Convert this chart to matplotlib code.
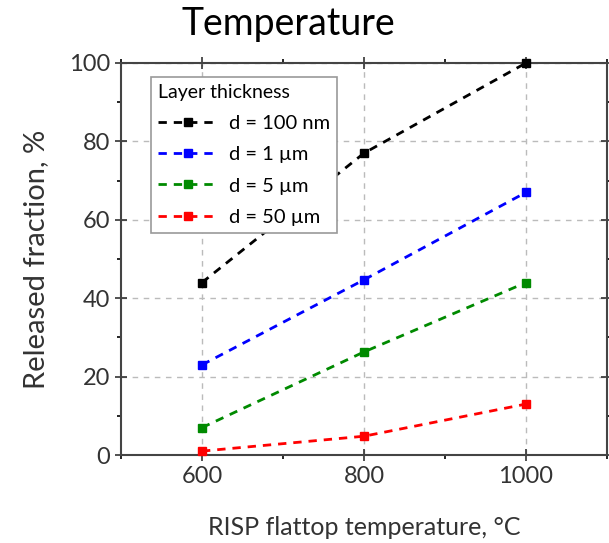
import numpy as np
import matplotlib.pyplot as plt
from matplotlib.ticker import MultipleLocator

plt.rcParams['font.family'] = ['Lato', 'DejaVu Sans']

# flattop temperature, degC
temperature = [600, 800, 1000]

# released fraction (%) for each layer thickness
labels = ["d = 100 nm", "d = 1 µm", "d = 5 µm", "d = 50 µm"]
released = [
    [44, 77, 100],
    [23, 44.7, 67],
    [7, 26.3, 44],
    [1, 4.8, 13],
]
colors = ["black", "#0000ff", "#008a00", "#ff0000"]

fig = plt.figure(figsize=(6.09, 5.43), dpi=100)
ax = fig.add_axes([0.1987, 0.162, 0.798, 0.722])

for vals, lab, col in zip(released, labels, colors):
    ax.plot(temperature, vals, linestyle=(0, (3, 2.5)), linewidth=2, color=col,
            marker="s", markersize=6, label=lab, clip_on=False, zorder=3)

ax.set_xlim(500, 1100)
ax.set_ylim(0, 100)
ax.xaxis.set_major_locator(MultipleLocator(200))
ax.xaxis.set_minor_locator(MultipleLocator(100))
ax.yaxis.set_major_locator(MultipleLocator(20))
ax.yaxis.set_minor_locator(MultipleLocator(10))
ax.tick_params(which="major", direction="inout", length=8, width=1.2,
               top=True, right=True, labelsize=17, colors="#333333", pad=4)
ax.tick_params(which="minor", direction="out", length=3, width=1.2,
               top=True, right=True)
ax.grid(True, which="major", linestyle=(0, (4, 4)), color="#bbbbbb", linewidth=1)
for s in ax.spines.values():
    s.set_linewidth(1.5)
    s.set_color("#444444")

ax.set_xlabel("RISP flattop temperature, °C", fontsize=18, color="#333333", labelpad=21)
ax.set_ylabel("Released fraction, %", fontsize=21, color="#333333", labelpad=14)
fig.text(0.473, 0.955, "Temperature", fontsize=27, ha="center", va="center")

leg = ax.legend(title="Layer thickness", loc="upper left", bbox_to_anchor=(0.05, 0.98),
                fontsize=14.5, title_fontsize=14, frameon=True, fancybox=False,
                edgecolor="#999999", framealpha=1, handlelength=2.9,
                borderpad=0.35, labelspacing=0.7, handletextpad=0.6, borderaxespad=0.3)
leg._legend_box.align = "left"
leg.get_frame().set_linewidth(1.2)

fig.savefig("out.png", dpi=100)
